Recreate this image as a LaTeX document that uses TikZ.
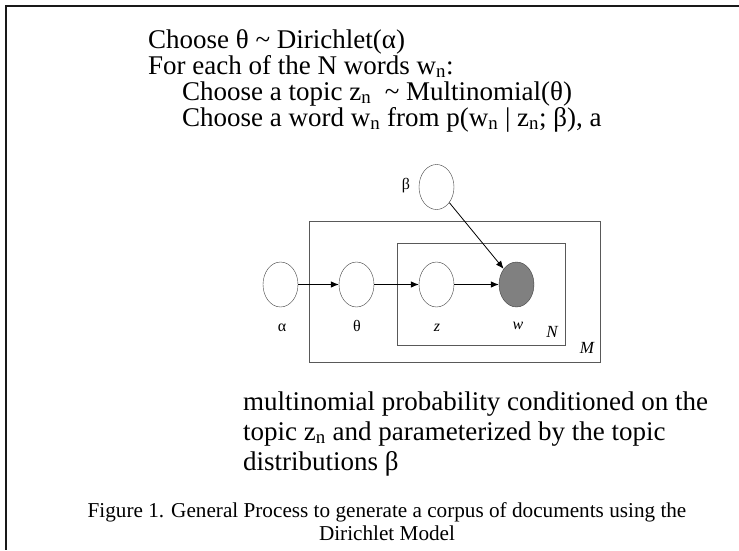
\documentclass[tikz,border=0pt]{standalone}
\usepackage{fontspec}
\setmainfont{Liberation Serif}
\usetikzlibrary{arrows.meta,shapes.geometric,positioning}

\tikzset{
  latent/.style={ellipse, draw=black!75, thin, fill=white, minimum width=35pt, minimum height=45pt, inner sep=0pt},
  observed/.style={latent, fill=black!50},
  plate/.style={draw=black!65, line width=1pt},
  edge/.style={-{Latex[length=8pt,width=6.5pt]}, line width=0.8pt},
  vlabel/.style={font=\fontsize{16}{16}\selectfont, anchor=base},
  toptext/.style={anchor=base west, inner sep=0pt, text height=18pt, text depth=4pt, font=\fontsize{27}{27}\selectfont},
  bottext/.style={anchor=base west, inner sep=0pt, text height=19pt, text depth=6pt, font=\fontsize{27}{27}\selectfont},
  captext/.style={anchor=base, inner sep=0pt, text height=14pt, text depth=4pt, font=\fontsize{21.2}{21.2}\selectfont}
}

\begin{document}
\begin{tikzpicture}[x=1pt,y=-1pt]
  \useasboundingbox (0,0) rectangle (739,550);
  % frame (top and left side only)
  \draw[line width=2pt, black!90] (739,6) -- (6,6) -- (6,550);

  % generative process
  \node[toptext] (l1) at (148,48) {Choose θ \textasciitilde{} Dirichlet(α)};
  \node[toptext] (l2) at (148,74) {For each of the N words w\textsubscript{n}:};
  \node[toptext] (l3) at (182,100) {Choose a topic z\textsubscript{n}\ \ \textasciitilde{} Multinomial(θ)};
  \node[toptext] (l4) at (182,126) {Choose a word w\textsubscript{n} from p(w\textsubscript{n} | z\textsubscript{n}; β), a};

  % plates
  \draw[plate] (309,221) rectangle (600,362);
  \draw[plate] (397,243) rectangle (565,345);
  \node[vlabel, font=\fontsize{17}{17}\selectfont\itshape] (Mlab) at (587,353) {M};
  \node[vlabel, font=\fontsize{17}{17}\selectfont\itshape] (Nlab) at (552,337) {N};

  % variables
  \node[latent] (beta) at (436.5,187) {};
  \node[latent] (alpha) at (280.5,284.5) {};
  \node[latent] (theta) at (356.5,284.5) {};
  \node[latent] (z) at (436.5,284.5) {};
  \node[observed] (w) at (516.5,284.5) {};

  \node[vlabel] (betalab) at (406,189) {β};
  \node[vlabel] (alphalab) at (282,331) {α};
  \node[vlabel] (thetalab) at (357,331) {θ};
  \node[vlabel, font=\fontsize{16}{16}\selectfont\itshape] (zlab) at (437,331) {z};
  \node[vlabel, font=\fontsize{16}{16}\selectfont\itshape] (wlab) at (518,329) {w};

  % edges
  \draw[edge] (alpha) -- (theta);
  \draw[edge] (theta) -- (z);
  \draw[edge] (z) -- (w);
  \draw[edge] (beta) -- (w);

  % explanation
  \node[bottext] (m1) at (243,410) {multinomial probability conditioned on the};
  \node[bottext] (m2) at (243,440) {topic z\textsubscript{n} and parameterized by the topic};
  \node[bottext] (m3) at (243,470) {distributions β};

  % caption
  \node[captext] (c1) at (387,517) {Figure 1. General Process to generate a corpus of documents using the};
  \node[captext] (c2) at (387,540) {Dirichlet Model};
\end{tikzpicture}
\end{document}
